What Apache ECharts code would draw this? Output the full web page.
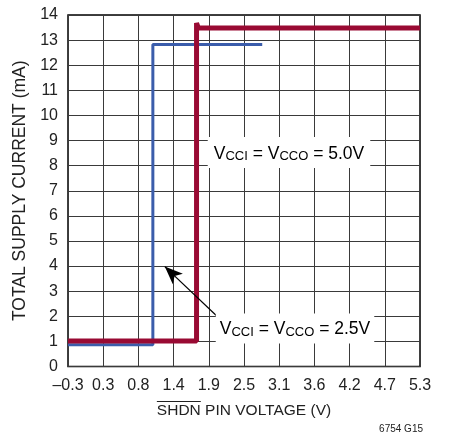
<!DOCTYPE html>
<html>
<head>
<meta charset="utf-8">
<script src="https://cdn.jsdelivr.net/npm/echarts@6/dist/echarts.min.js"></script>
<style>
html,body{margin:0;padding:0;background:#fff;}
#chart{width:449px;height:438px;}
</style>
</head>
<body>
<div id="chart"></div>
<script>
// ---- data ----
const xTickLabels = ['\u20130.3','0.3','0.8','1.4','1.9','2.5','3.1','3.6','4.2','4.7','5.3'];
const xMinV = -0.3, xMaxV = 5.3;
const yTickMin = 0, yTickMax = 14, yTickStep = 1;

// VCCI = VCCO = 2.5V (blue)
const blueVolts = [-0.3, 1.05, 1.05, 2.79];
const blueCurrent = [0.87, 0.87, 12.83, 12.83];

// VCCI = VCCO = 5.0V (red)
const redVolts = [-0.3, 1.745, 1.745, 1.775, 5.3];
const redCurrent = [1.02, 1.02, 13.68, 13.48, 13.48];

// arrow for 2.5V label (volts, mA)
const arrowFrom = [2.13, 1.86];
const arrowTo = [1.24, 3.98];

// ---- helpers ----
const divStep = (xMaxV - xMinV) / 10;
const toDiv = v => (v - xMinV) / divStep;
const pairs = (xs, ys) => xs.map((x, i) => [toDiv(x), ys[i]]);

const FONT = '"Liberation Sans", Arial, sans-serif';

function textWidth(t, font) {
  const c = document.createElement('canvas').getContext('2d');
  c.font = font;
  return c.measureText(t).width;
}
const annMain = 17.5;
const annSub = 13;

const chart = echarts.init(document.getElementById('chart'), null, {renderer: 'canvas'});

const xTitleSize = 15.5;
const xTitle = 'SHDN PIN VOLTAGE (V)';
const xTitleW = textWidth(xTitle, xTitleSize + 'px ' + FONT);
const shdnW = textWidth('SHDN', xTitleSize + 'px ' + FONT);
const xTitleLeft = 244 - xTitleW / 2;

const annRich = {
  v: {fontSize: annMain, fontFamily: FONT, color: '#222', lineHeight: 20, verticalAlign: 'bottom'},
  s: {fontSize: annSub, fontFamily: FONT, color: '#222', lineHeight: 13, verticalAlign: 'bottom'}
};

const option = {
  animation: false,
  backgroundColor: '#fff',
  grid: {left: 68, right: 29, top: 15, bottom: 71.5, show: true, borderColor: '#000', borderWidth: 1.5, backgroundColor: 'transparent'},
  xAxis: {
    type: 'value', min: 0, max: 10, interval: 1,
    axisLine: {show: false}, axisTick: {show: false},
    splitLine: {show: true, lineStyle: {color: '#3a3a3a', width: 1}},
    axisLabel: {
      formatter: v => xTickLabels[Math.round(v)],
      fontSize: 16, fontFamily: FONT, color: '#222', margin: 11
    }
  },
  yAxis: {
    type: 'value', min: yTickMin, max: yTickMax, interval: yTickStep,
    axisLine: {show: false}, axisTick: {show: false},
    splitLine: {show: true, lineStyle: {color: '#3a3a3a', width: 1}},
    axisLabel: {fontSize: 16, fontFamily: FONT, color: '#222', margin: 10},
    name: 'TOTAL SUPPLY CURRENT (mA)', nameLocation: 'middle', nameGap: 38,
    nameTextStyle: {fontSize: 17.5, fontFamily: FONT, color: '#222'}
  },
  series: [
    {
      type: 'line', data: pairs(blueVolts, blueCurrent), symbol: 'none',
      lineStyle: {color: '#3b5dab', width: 3}, z: 3
    },
    {
      type: 'line', data: pairs(redVolts, redCurrent), symbol: 'none',
      lineStyle: {color: '#990a33', width: 5, join: 'bevel'}, z: 4,
      markLine: {
        silent: true, symbol: ['none', 'arrow'], symbolSize: [11, 18],
        label: {show: false}, z: 10,
        lineStyle: {color: '#000', width: 1.2, type: 'solid'},
        data: [[{coord: [toDiv(arrowFrom[0]), arrowFrom[1]]}, {coord: [toDiv(arrowTo[0]), arrowTo[1]]}]]
      }
    }
  ],
  graphic: [
    {
      type: 'text', z: 100, x: 289, y: 152.5,
      style: {
        text: '{v|V}{s|CCI}{v| = V}{s|CCO}{v| = 5.0V}', rich: annRich,
        align: 'center', verticalAlign: 'middle',
        backgroundColor: '#fff', padding: [6, 6, 5, 6]
      }
    },
    {
      type: 'text', z: 100, x: 295, y: 328.5,
      style: {
        text: '{v|V}{s|CCI}{v| = V}{s|CCO}{v| = 2.5V}', rich: annRich,
        align: 'center', verticalAlign: 'middle',
        backgroundColor: '#fff', padding: [5, 4, 5, 4]
      }
    },
    {
      type: 'text', z: 100, x: xTitleLeft, y: 410.5,
      style: {text: xTitle, font: xTitleSize + 'px ' + FONT, fill: '#222', align: 'left', verticalAlign: 'middle'}
    },
    {
      type: 'line', z: 100,
      shape: {x1: xTitleLeft, y1: 401.5, x2: xTitleLeft + shdnW, y2: 401.5},
      style: {stroke: '#222', lineWidth: 1}
    },
    {
      type: 'text', z: 100, x: 423, y: 429,
      style: {text: '6754 G15', font: '10px ' + FONT, fill: '#222', align: 'right', verticalAlign: 'middle'}
    }
  ]
};
chart.setOption(option);
</script>
</body>
</html>
